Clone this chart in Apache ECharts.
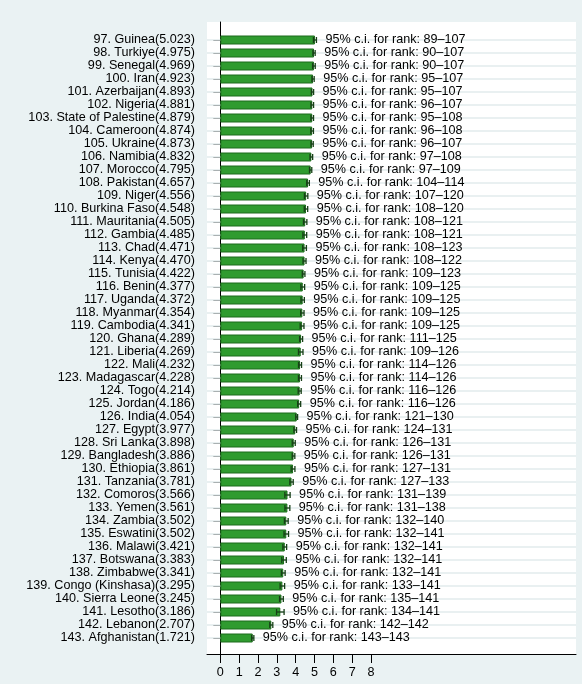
<!DOCTYPE html>
<html>
<head>
<meta charset="utf-8">
<script src="https://cdn.jsdelivr.net/npm/echarts@6/dist/echarts.min.js"></script>
<style>
html,body{margin:0;padding:0;background:#eaf2f3;}
#c{width:582px;height:684px;}
</style>
</head>
<body>
<div id="c"></div>
<script>
const ranks = [97,98,99,100,101,102,103,104,105,106,107,108,109,110,111,112,113,114,115,116,117,118,119,120,121,122,123,124,125,126,127,128,129,130,131,132,133,134,135,136,137,138,139,140,141,142,143];
const countries = ["Guinea","Turkiye","Senegal","Iran","Azerbaijan","Nigeria","State of Palestine","Cameroon","Ukraine","Namibia","Morocco","Pakistan","Niger","Burkina Faso","Mauritania","Gambia","Chad","Kenya","Tunisia","Benin","Uganda","Myanmar","Cambodia","Ghana","Liberia","Mali","Madagascar","Togo","Jordan","India","Egypt","Sri Lanka","Bangladesh","Ethiopia","Tanzania","Comoros","Yemen","Zambia","Eswatini","Malawi","Botswana","Zimbabwe","Congo (Kinshasa)","Sierra Leone","Lesotho","Lebanon","Afghanistan"];
const scores = [5.023,4.975,4.969,4.923,4.893,4.881,4.879,4.874,4.873,4.832,4.795,4.657,4.556,4.548,4.505,4.485,4.471,4.470,4.422,4.377,4.372,4.354,4.341,4.289,4.269,4.232,4.228,4.214,4.186,4.054,3.977,3.898,3.886,3.861,3.781,3.566,3.561,3.502,3.502,3.421,3.383,3.341,3.295,3.245,3.186,2.707,1.721];
// estimated half-width of the score's 95% interval (whiskers)
const ciHalf = [0.08,0.06,0.07,0.06,0.06,0.07,0.07,0.07,0.06,0.07,0.06,0.07,0.09,0.09,0.09,0.10,0.10,0.08,0.07,0.10,0.09,0.09,0.10,0.08,0.12,0.08,0.08,0.08,0.08,0.05,0.07,0.08,0.07,0.10,0.09,0.14,0.13,0.10,0.12,0.10,0.12,0.10,0.12,0.10,0.20,0.08,0.06];
const rankLo = [89,90,90,95,95,96,95,96,96,97,97,104,107,108,108,108,108,108,109,109,109,109,109,111,109,114,114,116,116,121,124,126,126,127,127,131,131,132,132,132,132,132,133,135,134,142,143];
const rankHi = [107,107,107,107,107,107,108,108,107,108,109,114,120,120,121,121,123,122,123,125,125,125,125,125,126,126,126,126,126,130,131,131,131,131,133,139,138,140,141,141,141,141,141,141,141,142,143];
const xTicks = [0,1,2,3,4,5,6,7,8];

const FONT = '"Liberation Sans", Arial, Helvetica, sans-serif';
const FS = 12.6;
const X_MIN = -0.706, X_MAX = 18.88;

const yLabels = ranks.map((r,i) => r + '. ' + countries[i] + '(' + scores[i].toFixed(3) + ')');
const errData = scores.map((s,i) => [i, s - ciHalf[i], s + ciHalf[i], rankLo[i], rankHi[i]]);
const gridData = scores.map((s,i) => [i]);

const chart = echarts.init(document.getElementById('c'), null, {renderer:'canvas'});
chart.setOption({
  backgroundColor: '#eaf2f3',
  animation: false,
  textStyle: {fontFamily: FONT},
  grid: [
    {left:207, right:6, top:22, bottom:30, show:true, backgroundColor:'#ffffff', borderWidth:0, containLabel:false},
    {left:207, right:6, top:33.5, bottom:39.5, containLabel:false}
  ],
  xAxis: [
    {gridIndex:0, type:'value', min:X_MIN, max:X_MAX,
     axisLine:{show:true, onZero:false, lineStyle:{color:'#000', width:1}},
     axisTick:{show:true, customValues:xTicks, length:9, inside:false, lineStyle:{color:'#000', width:1}},
     axisLabel:{show:true, customValues:xTicks, margin:12, color:'#000', fontSize:FS, fontFamily:FONT},
     splitLine:{show:false}},
    {gridIndex:1, type:'value', min:X_MIN, max:X_MAX, show:false, splitLine:{show:false}}
  ],
  yAxis: [
    {gridIndex:0, type:'value', min:0, max:1,
     axisLine:{show:true, lineStyle:{color:'#000', width:1}},
     axisTick:{show:false}, axisLabel:{show:false}, splitLine:{show:false}},
    {gridIndex:1, type:'category', data:yLabels, inverse:true,
     axisLine:{show:false},
     axisTick:{show:true, alignWithLabel:true, length:7, lineStyle:{color:'#000', width:1}},
     axisLabel:{show:true, interval:0, margin:12, color:'#000', fontSize:FS, fontFamily:FONT},
     splitLine:{show:false}}
  ],
  series: [
    {type:'custom', xAxisIndex:1, yAxisIndex:1, z:1, silent:true,
     data: gridData,
     renderItem: function(params, api){
       const p = api.coord([0, api.value(0)]);
       const cs = params.coordSys;
       return {type:'line', shape:{x1:cs.x, y1:p[1], x2:cs.x+cs.width, y2:p[1]},
               style:{stroke:'#e2ebed', lineWidth:1.4}};
     }},
    {type:'bar', xAxisIndex:1, yAxisIndex:1, z:2, data:scores, barWidth:9,
     itemStyle:{color:'#2f9b2f', borderColor:'#1c6a1c', borderWidth:1}},
    {type:'custom', xAxisIndex:1, yAxisIndex:1, z:3, silent:true,
     data: errData,
     renderItem: function(params, api){
       const idx = api.value(0);
       const lo = api.coord([api.value(1), idx]);
       const hi = api.coord([api.value(2), idx]);
       const cap = 3;
       const st = {stroke:'#173f17', lineWidth:1.3};
       return {type:'group', children:[
         {type:'line', shape:{x1:lo[0], y1:lo[1], x2:hi[0], y2:hi[1]}, style:st},
         {type:'line', shape:{x1:lo[0], y1:lo[1]-cap, x2:lo[0], y2:lo[1]+cap}, style:st},
         {type:'line', shape:{x1:hi[0], y1:hi[1]-cap, x2:hi[0], y2:hi[1]+cap}, style:st},
         {type:'text', style:{text:'95% c.i. for rank: ' + api.value(3) + '\u2013' + api.value(4),
           x:hi[0]+9, y:hi[1], verticalAlign:'middle', align:'left',
           fill:'#000', fontSize:FS, fontFamily:FONT}}
       ]};
     }}
  ]
});
</script>
</body>
</html>
